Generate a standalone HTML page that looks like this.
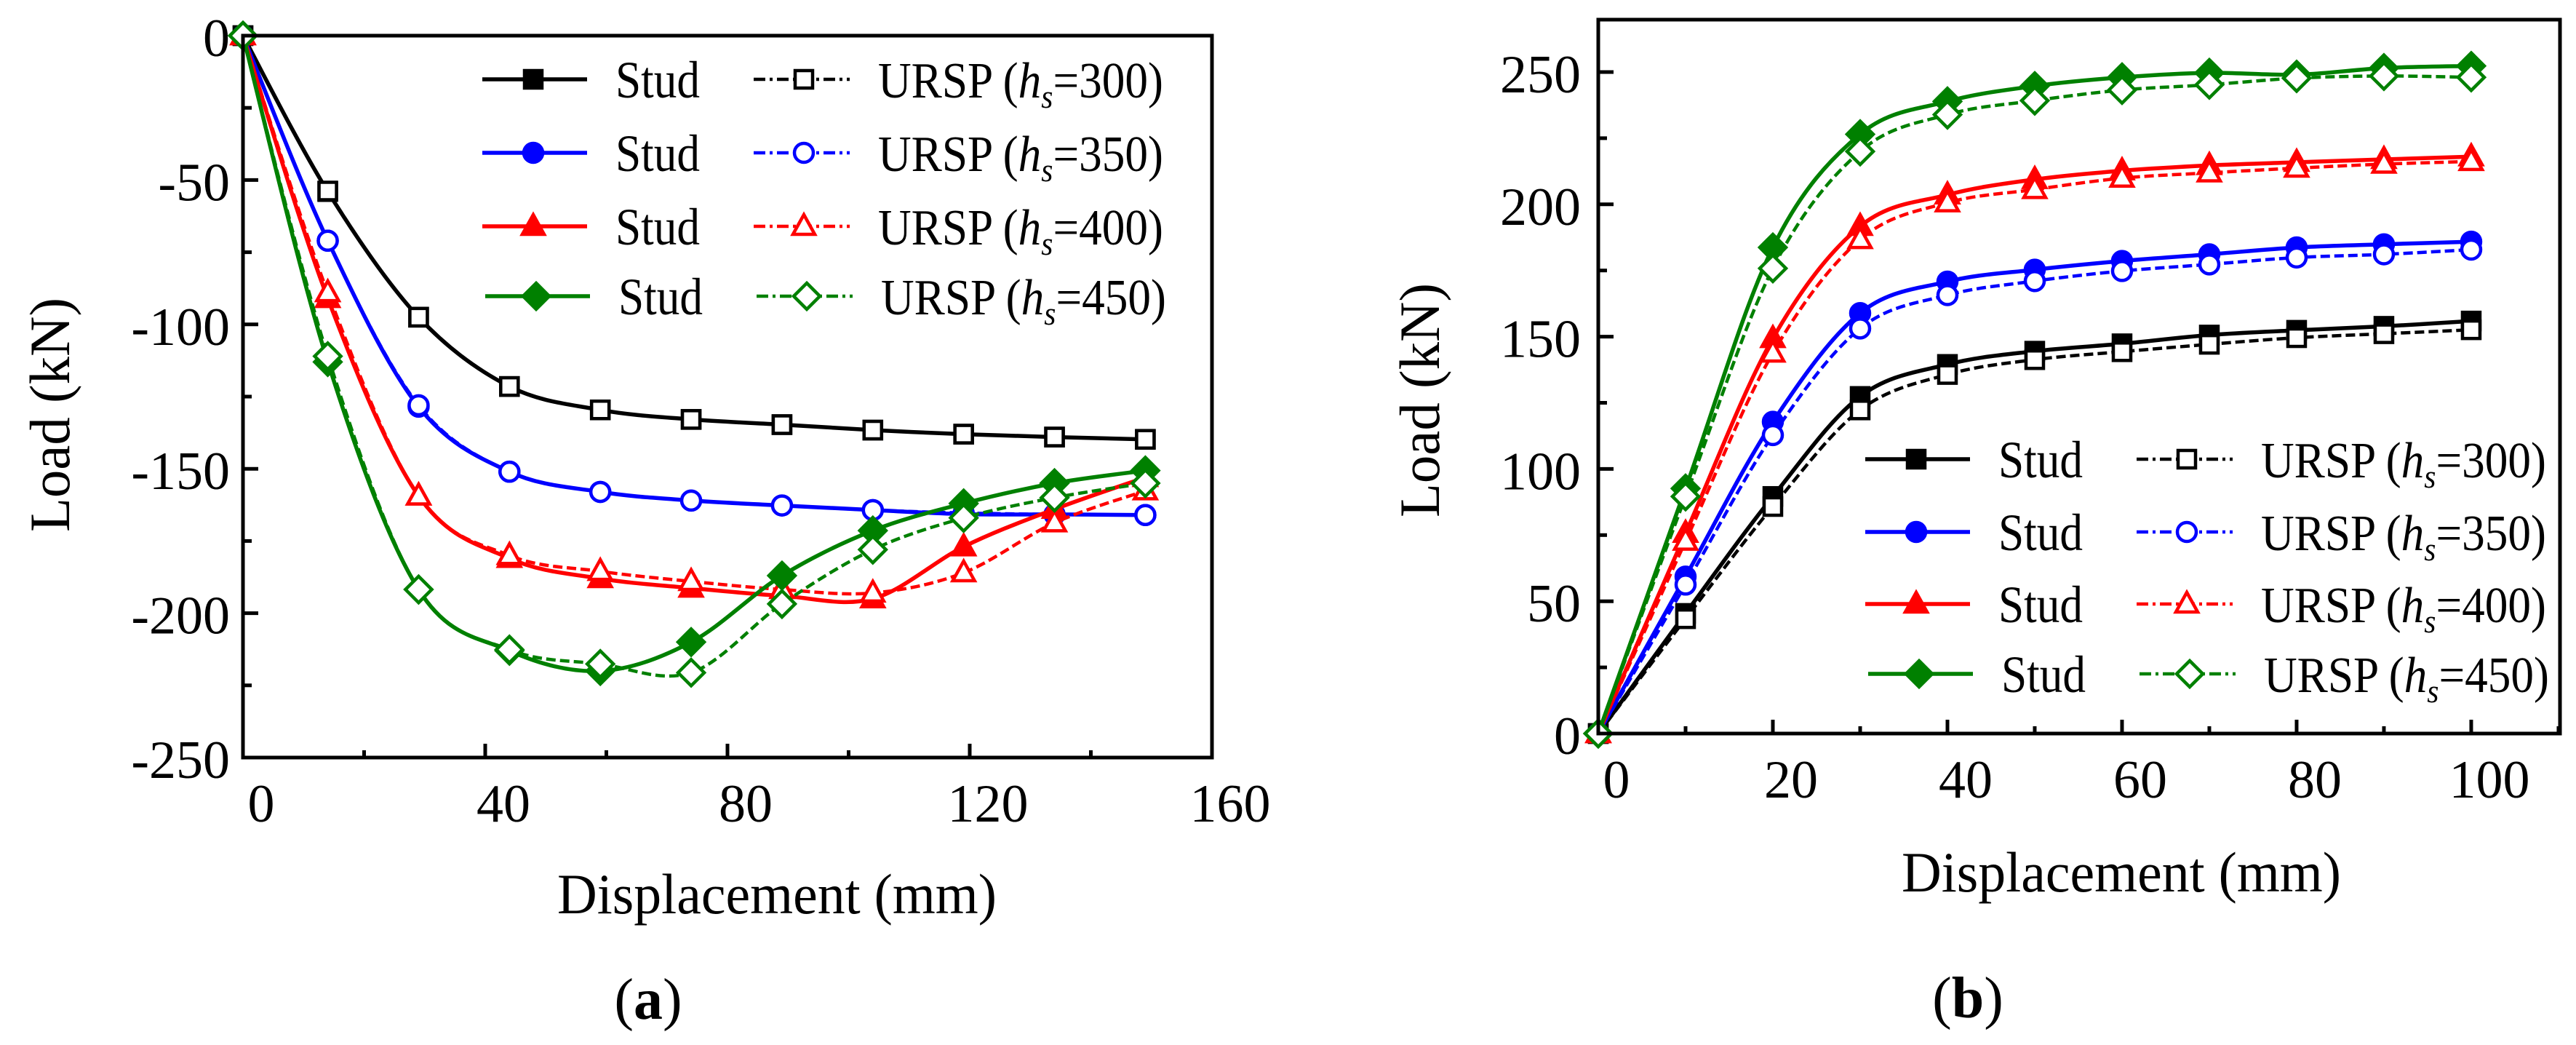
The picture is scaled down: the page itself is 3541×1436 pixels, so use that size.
<!DOCTYPE html>
<html><head><meta charset="utf-8">
<style>
html,body{margin:0;padding:0;background:#fff;}
svg{display:block;font-family:"Liberation Serif","DejaVu Serif",serif;}
text{font-family:"Liberation Serif","DejaVu Serif",serif;}
</style></head>
<body>
<svg id="fig" width="3541" height="1436" viewBox="0 0 3541 1436" xmlns="http://www.w3.org/2000/svg">
<rect width="3541" height="1436" fill="#fff"/>
<g id="chartA"></g>
<g id="chartB"></g>
</svg>
<script>
// ---------- Chart (a) data ----------
const xA = [0, 14, 29, 44, 59, 74, 89, 104, 119, 134, 149];
const studA300 = [0, -54, -97.5, -121.5, -129.6, -132.9, -134.7, -136.6, -138, -139, -139.8];
const urspA300 = [0, -53.8, -97.5, -121.5, -129.6, -132.9, -134.7, -136.6, -138, -139, -139.8];
const studA350 = [0, -71, -128.5, -151, -158, -161, -162.7, -164.3, -165.7, -165.8, -166];
const urspA350 = [0, -71, -128, -151, -158, -161, -162.7, -164.3, -165.3, -165.8, -166];
const studA400 = [0, -91, -159.4, -181, -188, -191.3, -194, -195, -177, -164, -153];
const urspA400 = [0, -89, -159.4, -180, -185.5, -189, -191.8, -193, -186, -168.7, -157.6];
const studA450 = [0, -113, -191.8, -213, -220, -210, -187, -171.4, -162, -155, -150.6];
const urspA450 = [0, -111, -191.8, -212.6, -217.6, -220.6, -196.8, -178, -167, -160, -155];
const yTicksA = [0, -50, -100, -150, -200, -250];
const xTicksA = [0, 40, 80, 120, 160];

// ---------- Chart (b) data ----------
const xB = [0, 10, 20, 30, 40, 50, 60, 70, 80, 90, 100];
const studB300 = [0, 45.4, 89.6, 127.4, 139.5, 144.5, 147.3, 150.6, 152.4, 153.9, 155.9];
const urspB300 = [0, 43.4, 85.8, 122.3, 135.7, 141.3, 144.3, 147.1, 149.6, 151.1, 152.6];
const studB350 = [0, 59.3, 117.8, 158.9, 170.8, 175.3, 178.6, 181.1, 183.7, 184.9, 185.9];
const urspB350 = [0, 56.3, 112.8, 153.1, 165.7, 171, 174.8, 177.3, 179.9, 181.1, 182.9];
const studB400 = [0, 75.7, 149.3, 191.7, 203.6, 209.4, 212.7, 214.7, 215.9, 217, 218];
const urspB400 = [0, 72.7, 143.8, 186.7, 200.6, 205.6, 209.9, 211.9, 213.7, 215.2, 216.2];
const studB450 = [0, 92.6, 183.7, 226.5, 238.9, 244.7, 248, 249.7, 249, 251.5, 252.3];
const urspB450 = [0, 89.6, 175.8, 220, 233.9, 239.2, 243.2, 245.2, 247.7, 248.5, 248];
const yTicksB = [0, 50, 100, 150, 200, 250];
const xTicksB = [0, 20, 40, 60, 80, 100];

const legendLabels = ['300', '350', '400', '450'];
const colors = ['#000000', '#0000ff', '#ff0000', '#008000'];
const markers = ['square', 'circle', 'triangle', 'diamond'];

const NS = 'http://www.w3.org/2000/svg';
function mk(tag, attrs, parent) {
  const e = document.createElementNS(NS, tag);
  for (const k in attrs) e.setAttribute(k, attrs[k]);
  parent.appendChild(e);
  return e;
}
function smoothPath(pts) {
  let d = 'M' + pts[0][0].toFixed(1) + ',' + pts[0][1].toFixed(1);
  for (let i = 0; i < pts.length - 1; i++) {
    const p0 = pts[Math.max(0, i - 1)], p1 = pts[i], p2 = pts[i + 1], p3 = pts[Math.min(pts.length - 1, i + 2)];
    const c1 = [p1[0] + (p2[0] - p0[0]) / 6, p1[1] + (p2[1] - p0[1]) / 6];
    const c2 = [p2[0] - (p3[0] - p1[0]) / 6, p2[1] - (p3[1] - p1[1]) / 6];
    d += ' C' + c1.map(v => v.toFixed(1)).join(',') + ' ' + c2.map(v => v.toFixed(1)).join(',') + ' ' + p2[0].toFixed(1) + ',' + p2[1].toFixed(1);
  }
  return d;
}
function drawMarker(g, type, cx, cy, color, filled) {
  const fill = filled ? color : '#fff';
  const sw = 4.5;
  let m;
  if (type === 'square') m = mk('rect', {x: cx - 12, y: cy - 12, width: 24, height: 24, fill: fill, stroke: color, 'stroke-width': sw}, g);
  else if (type === 'circle') m = mk('circle', {cx: cx, cy: cy, r: 13, fill: fill, stroke: color, 'stroke-width': sw}, g);
  else if (type === 'triangle') m = mk('polygon', {points: (cx) + ',' + (cy - 16) + ' ' + (cx + 15) + ',' + (cy + 11) + ' ' + (cx - 15) + ',' + (cy + 11), fill: fill, stroke: color, 'stroke-width': sw}, g);
  else m = mk('polygon', {points: cx + ',' + (cy - 18) + ' ' + (cx + 18) + ',' + cy + ' ' + cx + ',' + (cy + 18) + ' ' + (cx - 18) + ',' + cy, fill: fill, stroke: color, 'stroke-width': sw}, g);
  
  
}

function buildChart(cfg) {
  const g = document.getElementById(cfg.id);
  const sx = v => cfg.left + (v - cfg.xmin) / (cfg.xmax - cfg.xmin) * (cfg.right - cfg.left);
  const sy = v => cfg.bottom - (v - cfg.ymin) / (cfg.ymax - cfg.ymin) * (cfg.bottom - cfg.top);
  const tg = mk('g', {stroke: '#000', 'stroke-width': 5}, g);
  
  
  for (let v = cfg.ymin; v <= cfg.ymax + 1e-9; v += cfg.yMinor) {
    const major = Math.abs(Math.round(v / cfg.yMajor) * cfg.yMajor - v) < 1e-6;
    mk('line', {x1: cfg.left, x2: cfg.left + (major ? 21 : 12), y1: sy(v), y2: sy(v)}, tg);
  }
  for (let v = cfg.xmin; v <= cfg.xmax + 1e-9; v += cfg.xMinor) {
    const major = Math.abs(Math.round(v / cfg.xMajor) * cfg.xMajor - v) < 1e-6;
    mk('line', {x1: sx(v), x2: sx(v), y1: cfg.bottom, y2: cfg.bottom - (major ? 19 : 10)}, tg);
  }
  cfg.series.forEach((s, i) => {
    const sg = mk('g', {}, g);
    
    
    const pts = cfg.xs.map((x, k) => [sx(x), sy(s.ys[k])]);
    const p = mk('path', {d: smoothPath(pts), fill: 'none', stroke: s.color, 'stroke-width': s.dash ? 4.5 : 5.5, 'stroke-dasharray': s.dash ? '13,6' : 'none', 'stroke-linejoin': 'round'}, sg);
    
    
    pts.forEach(pt => drawMarker(sg, s.marker, pt[0], pt[1], s.color, !s.dash));
  });
  const fr = mk('rect', {x: cfg.left, y: cfg.top, width: cfg.right - cfg.left, height: cfg.bottom - cfg.top, fill: 'none', stroke: '#000', 'stroke-width': 5}, g);
  
  
  cfg.yTicks.forEach(v => {
    const t = mk('text', {x: cfg.left - cfg.yLabOff, y: sy(v) + 28, 'font-size': 74, 'text-anchor': 'end'}, g);
    t.textContent = String(v);
    
    
  });
  cfg.xTicks.forEach(v => {
    const t = mk('text', {x: sx(v) + 25, y: cfg.bottom + 88, 'font-size': 74, 'text-anchor': 'middle'}, g);
    t.textContent = String(v);
    
    
  });
  const xt = mk('text', {x: cfg.xTitle[0], y: cfg.xTitle[1], 'font-size': 78, 'text-anchor': 'middle', textLength: 604, lengthAdjust: 'spacingAndGlyphs'}, g);
  xt.textContent = 'Displacement (mm)';
  
  
  const yt = mk('text', {x: 0, y: 0, 'font-size': 78, 'text-anchor': 'middle', textLength: 322, lengthAdjust: 'spacingAndGlyphs', transform: 'translate(' + cfg.yTitle[0] + ',' + cfg.yTitle[1] + ') rotate(-90)'}, g);
  yt.textContent = 'Load (kN)';
  
  
  const pl = mk('text', {x: cfg.panel[0], y: cfg.panel[1], 'font-size': 80, 'text-anchor': 'middle'}, g);
  pl.innerHTML = '(<tspan font-weight="bold">' + cfg.panelLetter + '</tspan>)';
  
  
  const lg = mk('g', {}, g);
  
  
  cfg.legendRows.forEach((ry, i) => {
    const ox = cfg.legendX + (i === 3 ? 4 : 0);
    const e1 = mk('g', {}, lg);
    
    
    mk('line', {x1: ox, x2: ox + 144, y1: ry, y2: ry, stroke: colors[i], 'stroke-width': 5.5}, e1);
    drawMarker(e1, markers[i], ox + 70, ry, colors[i], true);
    const t1 = mk('text', {x: ox + 183, y: ry + 25, 'font-size': 72, textLength: 116, lengthAdjust: 'spacingAndGlyphs'}, e1);
    t1.textContent = 'Stud';
    const e2 = mk('g', {}, lg);
    
    
    mk('line', {x1: ox + 373, x2: ox + 505, y1: ry, y2: ry, stroke: colors[i], 'stroke-width': 4.5, 'stroke-dasharray': '16,6,4,6'}, e2);
    drawMarker(e2, markers[i], ox + 442, ry, colors[i], false);
    const t2 = mk('text', {x: ox + 544, y: ry + 25, 'font-size': 70, textLength: 392, lengthAdjust: 'spacingAndGlyphs'}, e2);
    t2.innerHTML = 'URSP (<tspan font-style="italic">h</tspan><tspan font-style="italic" font-size="46" dy="14">s</tspan><tspan dy="-14">=' + legendLabels[i] + ')</tspan>';
  });
}

buildChart({
  id: 'chartA', left: 334, right: 1666, top: 49, bottom: 1041,
  xmin: 0, xmax: 160, ymin: -250, ymax: 0, xMajor: 40, xMinor: 20, yMajor: 50, yMinor: 25,
  xs: xA, yTicks: yTicksA, xTicks: xTicksA, yLabOff: 18,
  series: [
    {name: 'stud-300', ys: studA300, color: colors[0], marker: markers[0], dash: false},
    {name: 'ursp-300', ys: urspA300, color: colors[0], marker: markers[0], dash: true},
    {name: 'stud-350', ys: studA350, color: colors[1], marker: markers[1], dash: false},
    {name: 'ursp-350', ys: urspA350, color: colors[1], marker: markers[1], dash: true},
    {name: 'stud-400', ys: studA400, color: colors[2], marker: markers[2], dash: false},
    {name: 'ursp-400', ys: urspA400, color: colors[2], marker: markers[2], dash: true},
    {name: 'stud-450', ys: studA450, color: colors[3], marker: markers[3], dash: false},
    {name: 'ursp-450', ys: urspA450, color: colors[3], marker: markers[3], dash: true}
  ],
  xTitle: [1068, 1255], yTitle: [95, 570], panel: [891, 1400], panelLetter: 'a',
  legendRows: [109, 210, 311, 407], legendX: 663
});
buildChart({
  id: 'chartB', left: 2197, right: 3519, top: 27, bottom: 1008,
  xmin: 0, xmax: 110.17, ymin: 0, ymax: 269.8, xMajor: 20, xMinor: 10, yMajor: 50, yMinor: 25,
  xs: xB, yTicks: yTicksB, xTicks: xTicksB, yLabOff: 24,
  series: [
    {name: 'stud-300', ys: studB300, color: colors[0], marker: markers[0], dash: false},
    {name: 'ursp-300', ys: urspB300, color: colors[0], marker: markers[0], dash: true},
    {name: 'stud-350', ys: studB350, color: colors[1], marker: markers[1], dash: false},
    {name: 'ursp-350', ys: urspB350, color: colors[1], marker: markers[1], dash: true},
    {name: 'stud-400', ys: studB400, color: colors[2], marker: markers[2], dash: false},
    {name: 'ursp-400', ys: urspB400, color: colors[2], marker: markers[2], dash: true},
    {name: 'stud-450', ys: studB450, color: colors[3], marker: markers[3], dash: false},
    {name: 'ursp-450', ys: urspB450, color: colors[3], marker: markers[3], dash: true}
  ],
  xTitle: [2916, 1225], yTitle: [1978, 550], panel: [2705, 1398], panelLetter: 'b',
  legendRows: [631, 731, 830, 926], legendX: 2564
});
</script>
</body></html>
